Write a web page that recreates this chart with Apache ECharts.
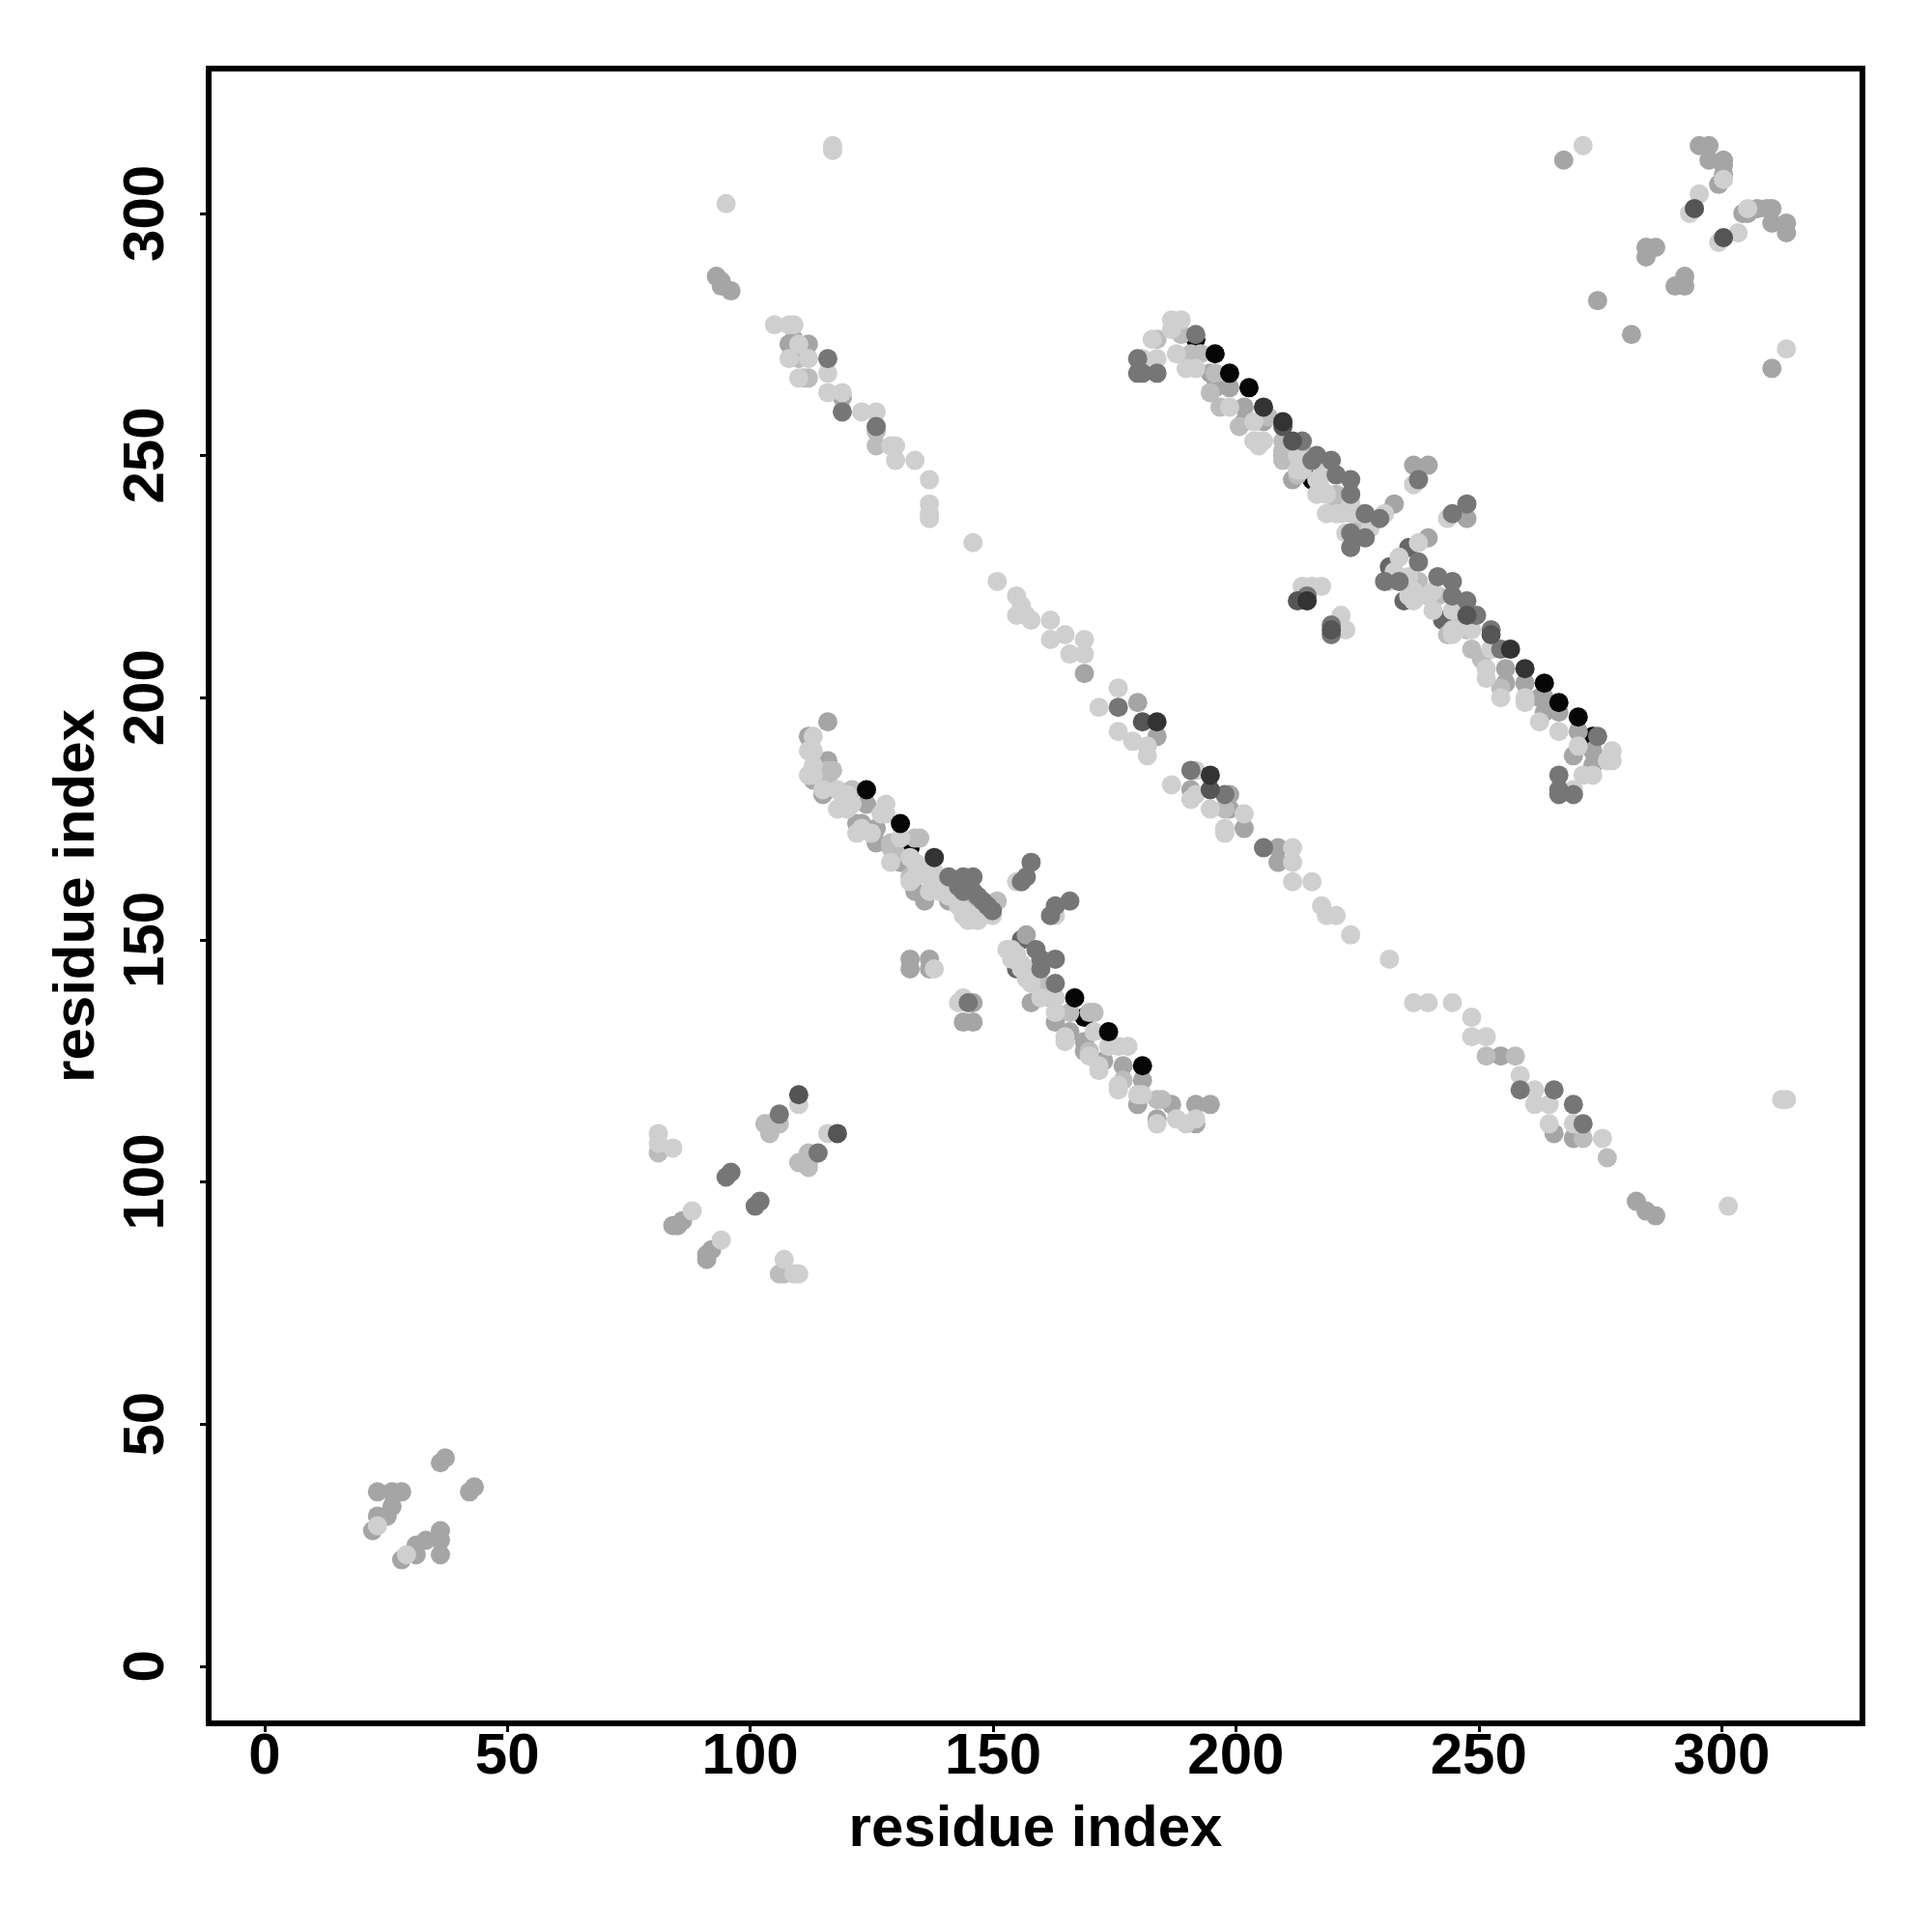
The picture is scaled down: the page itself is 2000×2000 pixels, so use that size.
<!DOCTYPE html>
<html><head><meta charset="utf-8">
<style>html,body{margin:0;padding:0;background:#fff}#c{width:2000px;height:2000px}</style>
<script src="https://cdn.jsdelivr.net/npm/echarts@6/dist/echarts.min.js"></script>
</head><body><div id="c"></div>
<script>
const tickValues = [0, 50, 100, 150, 200, 250, 300];
const axisTitle = 'residue index';

// contacts as [residue i, residue j], grouped by contact-strength level
const contactsLevelBlackUnder = [
[133,169],[169,134],[192,274],[274,192],[216,245]
];
const contactsLevelDarkUnder = [
[243,216],[235,220],[236,231],[155,144],[156,150],[232,227]
];
const contactsLevelMid = [
[23,36],[26,36],[28,36],[26,33],[23,31],[25,31],[22,28],[28,22],[31,23],[31,25],[33,26],[36,28],[36,26],[36,23],[36,42],[37,43],[42,36],[43,37],
[84,91],[85,91],[86,92],[91,84],[91,85],[92,86],[93,287],[94,286],[94,285],[96,284],
[108,273],[109,274],[112,273],[116,195],[112,192],[116,187],[116,181],[115,180],[113,183],[119,262],[124,178],[123,174],[122,174],[126,173],[126,170],[130,167],[131,166],
[134,160],[136,158],[141,158],[133,146],[133,144],[137,146],[137,144],[146,137],[144,133],[146,133],[157,151],[158,137],[163,133],
[166,131],[169,129],[169,127],[173,125],[177,124],[181,121],[180,116],[187,116],[184,113],[192,116],[195,116],[192,112],[199,177],[202,173],[191,181],
[180,199],[184,192],[199,180],[209,169],[209,166],[255,126],[266,110],[270,109],[283,96],[285,94],[287,93],[169,205],
[196,264],[199,264],[195,267],[202,260],[202,257],[206,257],[210,250],[212,245],[237,248],[240,248],[248,237],[233,240],[240,233],[256,206],[256,203],[260,203],[263,200],[264,200],[264,197],[267,197],[270,188],[274,189],[274,186],[271,193],
[268,311],[296,314],[298,314],[298,311],[301,311],[301,310],[301,308],[300,306],[305,300],[308,301],[310,301],[311,301],[311,298],[314,298],[314,296],[285,293],[287,293],[285,291],[293,287],[291,285],[293,285],[275,282],[282,275],[311,268],[306,300]
];
const contactsLevelLightMid = [
[81,106],[106,81],[107,81],[103,112],[104,110],[105,112],[104,112],[110,104],[111,104],[112,106],[112,104],[112,103],[106,112],
[110,270],[112,266],[111,266],[126,255],[126,252],[116,185],[117,185],[121,181],[116,183],[135,171],[134,171],[130,168],[129,170],[129,169],[133,163],[146,158],[151,158],[150,157],[141,160],[160,141],[166,135],[170,135],[171,135],[170,127],[177,121],[184,117],[185,117],[162,138],
[184,274],[189,275],[193,271],[191,271],[196,267],[197,260],[195,263],[201,256],[210,253],[210,251],[210,249],[213,246],[221,242],[221,241],[226,236],[252,126],[258,126],[272,109],[277,105],[249,210],[253,210],[248,214],[198,177],[207,258],[214,251],[222,240],[238,224],[242,221],[244,213],[247,216],[251,208],[255,202]
];
const contactsLevelLight = [
[23,29],[29,23],[81,110],[81,108],[84,107],[88,94],[94,88],[110,116],[116,110],[107,84],[109,81],[110,81],
[117,314],[117,313],[95,302],[105,277],[108,277],[109,277],[110,273],[108,270],[112,270],[110,266],[116,267],[116,263],[119,263],[123,259],[126,259],[129,252],[130,252],[130,249],[134,249],[137,245],[137,240],[137,238],[137,237],[146,232],[151,224],[155,221],[156,219],[155,217],[157,217],[158,216],[162,216],[162,212],[165,213],[166,209],[169,212],[169,209],[172,198],[176,202],[176,193],[179,191],[182,190],[182,188],[187,182],[192,185],[192,180],[191,179],[195,177],[202,176],[198,172],[198,173],[212,169],[212,166],[212,162],[216,162],[218,157],[219,155],[221,155],[224,151],[232,146],[237,137],[240,137],[245,137],[249,134],[249,130],[252,130],[259,122],[262,119],[262,116],[265,116],[265,112],[270,112],[276,109],[302,95],[313,117],[314,117],
[272,314],[296,304],[294,300],[301,307],[300,294],[304,296],[306,301],[314,272],
[113,192],[112,189],[113,189],[113,186],[112,184],[113,184],[115,181],[118,181],[119,180],[120,180],[121,178],[118,177],[120,177],[122,172],[123,173],[128,178],[128,176],[127,176],[125,172],[131,171],[129,166],[133,167],[134,166],[134,163],[133,162],[137,165],[138,164],[137,163],[138,161],[137,160],[139,160],[141,159],[143,157],[144,156],[144,155],[145,154],[146,155],[147,154],[148,155],[149,156],[150,155],[155,162],[163,155],[144,138],[143,137],[138,144],[153,148],[154,148],[155,147],[155,146],[154,146],[156,145],[157,144],[156,144],[158,143],[157,142],[158,142],[158,141],[160,138],[163,138],[163,135],[165,130],[165,129],[170,126],[171,131],[174,128],[176,128],[178,128],[172,123],[172,124],[176,120],[176,119],[181,118],[180,118],[188,113],[190,112],[192,113],[184,112],
[187,278],[189,278],[183,274],[187,276],[181,270],[184,270],[188,271],[190,268],[192,268],[199,260],[204,257],[204,253],[205,252],[206,253],[205,253],[213,250],[213,247],[214,249],[214,247],[218,248],[218,246],[218,243],[217,245],[217,242],[219,242],[219,238],[221,238],[222,238],[224,240],[226,238],[224,238],[225,233],[228,235],[231,238],[223,234],[222,217],[222,215],[223,214],[214,223],[216,223],[218,223],[238,232],[234,229],[233,226],[232,224],[237,244],[244,237],[236,225],[236,221],[240,221],[237,222],[237,220],[241,218],[241,222],[245,218],[245,214],[249,214],[246,214],[245,213],[252,206],[253,210],[252,204],[255,200],[260,200],[260,199],[263,195],[267,193],[271,190],[274,184],[278,189],[278,187],[277,187],[272,184],[270,181]
];
const contactsLevelDarkMid = [
[106,114],[114,106],[95,101],[96,102],[101,95],[102,96],[116,270],[119,259],[126,256],[144,163],[146,163],[141,163],[143,161],[144,160],[146,160],[147,159],[148,158],[149,157],[150,156],[158,166],[157,163],[156,162],[166,158],[163,157],[162,155],[159,148],[160,146],[163,146],[160,144],[163,141],[145,137],
[176,198],[191,185],[198,180],[206,169],[259,119],[266,119],[270,116],[272,112],
[192,275],[180,270],[180,267],[181,267],[184,267],[214,253],[217,250],[216,249],[220,249],[221,246],[224,245],[224,242],[227,238],[224,234],[224,231],[227,233],[230,237],[238,245],[248,240],[245,238],[238,228],[234,224],[231,224],[242,225],[245,224],[245,221],[248,220],[250,217],[253,214],[255,210],[267,184],[267,181],[267,180],[270,180],[275,192],[215,221],[220,215],[220,213]
];
const contactsLevelDark = [
[110,118],[118,110],[181,195],[195,181],[212,253],[210,256],[253,213],[248,217],[213,220],[220,214],[295,301],[301,295]
];
const contactsLevelVeryDark = [
[138,167],[184,195],[195,184],[206,260],[210,257],[215,220],[257,210],[260,206]
];
const contactsLevelBlack = [
[124,181],[131,174],[167,138],[174,131],[181,124],[196,271],[199,267],[203,264],[264,203],[267,199],[271,196]
];

const levels = [
  {data: contactsLevelBlackUnder, color: '#060606'},
  {data: contactsLevelDarkUnder, color: '#666666'},
  {data: contactsLevelMid, color: '#a5a5a5'},
  {data: contactsLevelLightMid, color: '#bcbcbc'},
  {data: contactsLevelLight, color: '#cfcfcf'},
  {data: contactsLevelDarkMid, color: '#767676'},
  {data: contactsLevelDark, color: '#555555'},
  {data: contactsLevelVeryDark, color: '#333333'},
  {data: contactsLevelBlack, color: '#060606'}
];

const font = '"Liberation Sans", Arial, sans-serif';
function axis(min, max, gap, margin, rotate) {
  return {
    type: 'value', min, max, scale: true,
    name: axisTitle, nameLocation: 'middle', nameGap: gap,
    nameTextStyle: {fontFamily: font, fontWeight: 'bold', fontSize: 60, color: '#000'},
    splitLine: {show: false},
    axisLine: {show: false, onZero: false},
    axisTick: {show: true, length: 9, lineStyle: {color: '#000', width: 3}, customValues: tickValues},
    axisLabel: {show: true, rotate, margin, fontFamily: font, fontWeight: 'bold', fontSize: 60, color: '#000', customValues: tickValues}
  };
}
const chart = echarts.init(document.getElementById('c'), null, {renderer: 'canvas'});
chart.setOption({
  animation: false,
  backgroundColor: '#fff',
  grid: {left: 216, top: 71, width: 1712, height: 1713, show: true, borderWidth: 6, borderColor: '#000', backgroundColor: 'transparent'},
  xAxis: [
    axis(-11.5, 329, 80, 5, 0),
    {type: 'value', min: -11.87, max: 329.7, show: false, splitLine: {show: false}, axisLine: {onZero: false}}
  ],
  yAxis: axis(-11.8, 329.9, 106, 34, 90),
  series: levels.map(l => ({
    type: 'scatter', xAxisIndex: 1, data: l.data, symbol: 'circle', symbolSize: 20, silent: true,
    itemStyle: {color: l.color, opacity: 1}
  }))
});
</script></body></html>
